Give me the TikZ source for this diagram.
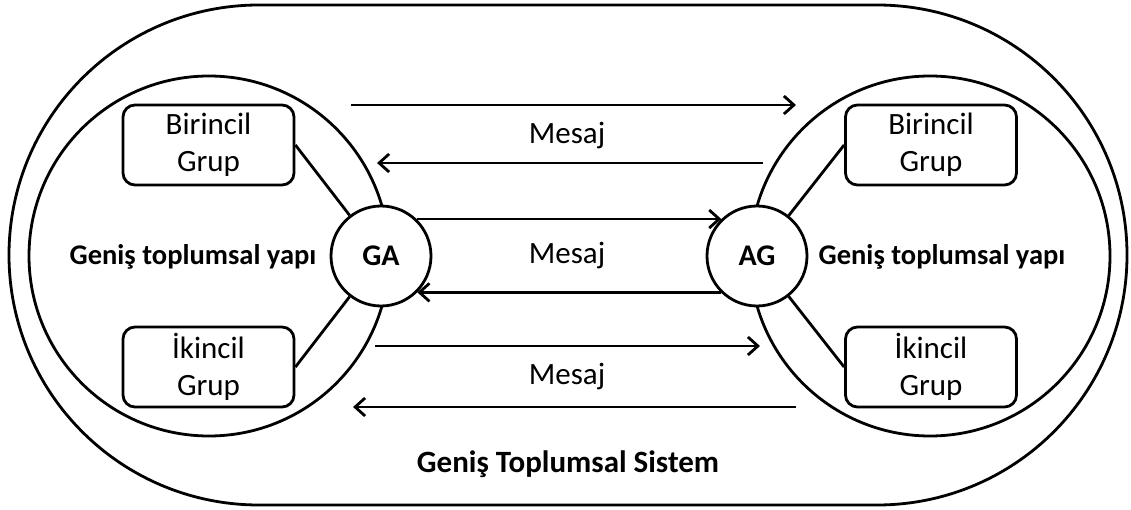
\documentclass[tikz,border=0pt]{standalone}
\usepackage{fontspec}
\setmainfont{Carlito}
\usetikzlibrary{arrows.meta}

\begin{document}
\begin{tikzpicture}[x=1pt,y=-1pt,
  line width=2.8pt,
  msgarrow/.style={-{Straight Barb[length=10pt,width=18pt,line width=2.8pt]}},
  groupbox/.style={draw,rounded corners=12pt,minimum width=171pt,minimum height=80pt,
    inner sep=0pt,align=center,font=\fontsize{31}{37}\selectfont},
  actor/.style={draw,circle,minimum size=100pt,inner sep=0pt,font=\fontsize{30}{34}\selectfont\bfseries},
  society/.style={draw,circle,minimum size=360pt,inner sep=0pt},
  structlabel/.style={anchor=base,font=\fontsize{28.5}{32}\selectfont\bfseries},
  msglabel/.style={anchor=base,font=\fontsize{31}{38}\selectfont}]

\useasboundingbox (0,0) rectangle (1131,510);

% wide social system
\draw[rounded corners=250pt] (9,5) rectangle (1127,505);
\node[structlabel,font=\fontsize{31}{36}\selectfont\bfseries] (system) at (568,472) {Geniş Toplumsal Sistem};

% the two social structures
\node[society] (lsoc) at (209,256) {};
\node[society] (rsoc) at (930,256) {};
\node[structlabel] (ltext) at (193,265) {Geniş toplumsal yapı};
\node[structlabel] (rtext) at (942,265) {Geniş toplumsal yapı};

% communicators
\node[actor,fill=white] (ga) at (381,256) {GA};
\node[actor,fill=white] (ag) at (757,256) {AG};

% groups
\node[groupbox] (lb) at (208.5,145) {Birincil\\Grup};
\node[groupbox] (li) at (208.5,367) {İkincil\\Grup};
\node[groupbox] (rb) at (931,145) {Birincil\\Grup};
\node[groupbox] (ri) at (931,367) {İkincil\\Grup};

\draw (lb.east) -- (ga);
\draw (li.east) -- (ga);
\draw (rb.west) -- (ag);
\draw (ri.west) -- (ag);

% message flows
\coordinate (m1s) at (351,105);  \coordinate (m1e) at (796,105);
\coordinate (m2s) at (763,163);  \coordinate (m2e) at (377,163);
\coordinate (m5s) at (375,346);  \coordinate (m5e) at (760,346);
\coordinate (m6s) at (796,407);  \coordinate (m6e) at (353,407);

\draw[msgarrow] (m1s) -- (m1e);
\draw[msgarrow] (m2s) -- (m2e);
\draw[msgarrow] (ga.46) -- (ag.134);
\draw[msgarrow] (ag.225) -- (ga.-45);
\draw[msgarrow] (m5s) -- (m5e);
\draw[msgarrow] (m6s) -- (m6e);

\node[msglabel] (msg1) at (567,144) {Mesaj};
\node[msglabel] (msg2) at (567,264) {Mesaj};
\node[msglabel] (msg3) at (567,384) {Mesaj};
\end{tikzpicture}
\end{document}
